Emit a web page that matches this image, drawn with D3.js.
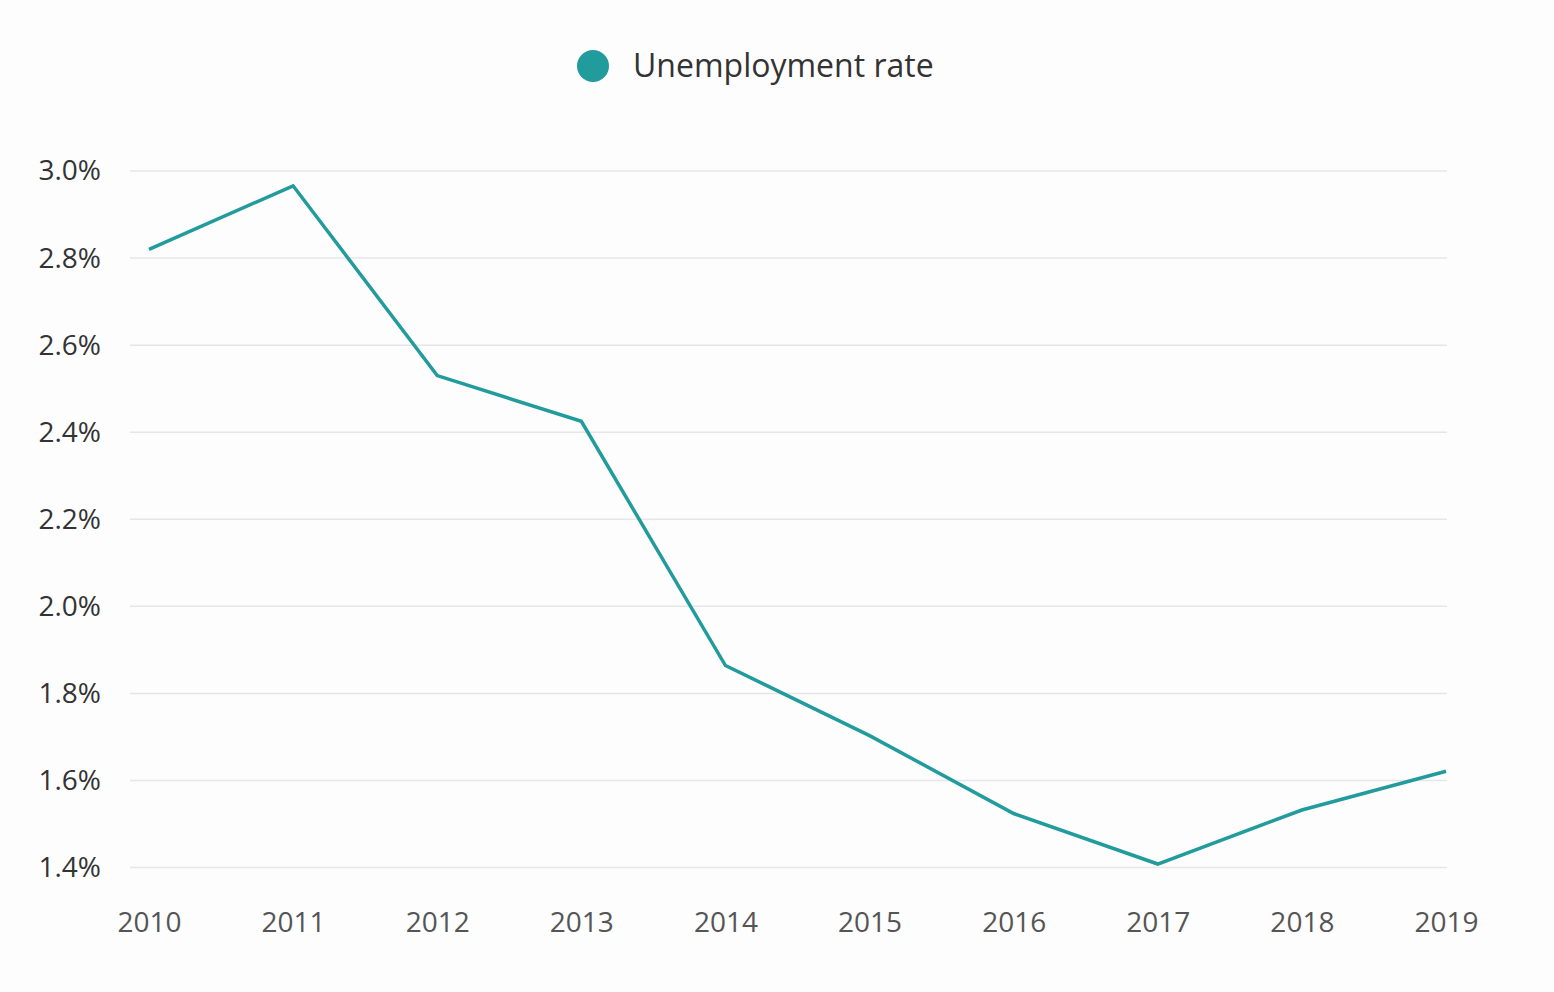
<!DOCTYPE html>
<html>
<head>
<meta charset="utf-8">
<script src="https://cdn.jsdelivr.net/npm/d3@7"></script>
<style>
  html, body { margin: 0; padding: 0; background: #fdfdfe; }
  svg { display: block; font-family: 'Open Sans', sans-serif; }
</style>
</head>
<body>
<svg id="chart" width="1554" height="992"></svg>
<script>
var years = [2010, 2011, 2012, 2013, 2014, 2015, 2016, 2017, 2018, 2019];
var rates = [2.82, 2.966, 2.53, 2.425, 1.864, 1.703, 1.524, 1.408, 1.532, 1.621];
var yTicks = [1.4, 1.6, 1.8, 2.0, 2.2, 2.4, 2.6, 2.8, 3.0];
var seriesName = 'Unemployment rate';

var lineColor = '#229b9d';
var margin = { top: 171, left: 130, right: 108, bottom: 125 };
var width = 1554, height = 992;

var svg = d3.select('#chart');

var x = d3.scaleLinear().domain([2010, 2019]).range([149, 1446]);
var y = d3.scaleLinear().domain([1.4, 3.0]).range([867.5, 171]);

// gridlines
svg.append('g').selectAll('line').data(yTicks).enter().append('line')
   .attr('x1', margin.left).attr('x2', 1447)
   .attr('y1', d => y(d)).attr('y2', d => y(d))
   .attr('stroke', '#e6e6e8').attr('stroke-width', 1.5);

// y axis labels
var yAxis = svg.append('g').attr('transform', 'translate(101,0)')
   .call(d3.axisLeft(y).tickValues(yTicks).tickSize(0).tickPadding(0).tickFormat(d => d3.format('.1f')(d) + '%'));
yAxis.select('.domain').remove();
yAxis.selectAll('text').attr('font-size', 28).attr('fill', '#333333').attr('font-family', "'Open Sans', sans-serif");

// x axis labels
var xAxis = svg.append('g').attr('transform', 'translate(0,912)')
   .call(d3.axisBottom(x).tickValues(years).tickSize(0).tickPadding(0).tickFormat(d3.format('d')));
xAxis.select('.domain').remove();
xAxis.selectAll('text').attr('font-size', 28).attr('fill', '#555555').attr('font-family', "'Open Sans', sans-serif");

// line
var line = d3.line().x((d, i) => x(years[i])).y(d => y(d));
svg.append('path').datum(rates)
   .attr('d', line)
   .attr('fill', 'none')
   .attr('stroke', lineColor)
   .attr('stroke-width', 3.5)
   .attr('stroke-linejoin', 'miter');

// legend
var legend = svg.append('g').attr('transform', 'translate(593,66)');
legend.append('circle').attr('r', 16).attr('fill', lineColor);
legend.append('text').attr('x', 40).attr('y', 0).attr('dy', '0.35em')
      .attr('font-size', 32).attr('fill', '#333333').text(seriesName);
</script>
</body>
</html>
